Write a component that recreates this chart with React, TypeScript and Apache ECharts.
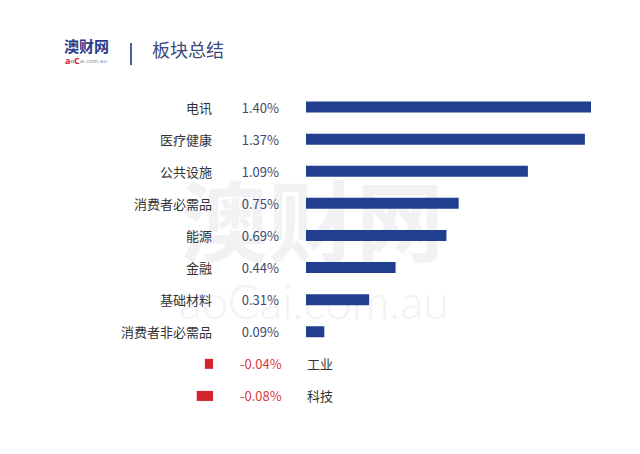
import React, { useEffect, useRef } from "react";
import * as echarts from "echarts";

const categories = ["电讯", "医疗健康", "公共设施", "消费者必需品", "能源", "金融", "基础材料", "消费者非必需品", "工业", "科技"];
const values = [1.40, 1.37, 1.09, 0.75, 0.69, 0.44, 0.31, 0.09, -0.04, -0.08];
const title = "板块总结";
const logoText = "澳财网";
const logoSub = "aoCai.com.au";

const FONT = "'Noto Sans CJK SC', 'Noto Sans', sans-serif";

export default function App() {
  const ref = useRef<HTMLDivElement>(null);
  useEffect(() => {
    if (!ref.current) return;
    const chart = echarts.init(ref.current, undefined, { renderer: "svg" });
    const posMax = 1.4;
    const posWidth = 285;
    const pxPerUnit = posWidth / posMax;
    const negWidth = 100;
    const negMin = -negWidth / pxPerUnit;
    const posData = values.map((v) => (v >= 0 ? v : "-"));
    const negData = values.map((v) => (v < 0 ? v : "-"));
    const fmt = (v: number) => v.toFixed(2) + "%";
    const top = 91;
    const height = 321;
    chart.setOption({
      animation: false,
      backgroundColor: "#ffffff",
      graphic: [
        { type: "text", left: 180, top: 172, z: -10, style: { text: logoText, fill: "#f2f2f4", font: `bold 88px ${FONT}` } },
        { type: "text", left: 179, top: 277, z: -10, style: { text: logoSub, fill: "#f2f2f4", font: `300 47px Lato, 'Open Sans', sans-serif` } },
        { type: "text", left: 64, top: 38, style: { text: logoText, fill: "#2c3b8c", font: `bold 15px ${FONT}` } },
        {
          type: "text",
          left: 65,
          top: 56,
          style: {
            text: "{a|a}{o|o}{c|C}{r|ai.com.au}",
            rich: {
              a: { fill: "#c8262e", font: `bold 9px 'Open Sans', sans-serif` },
              o: { fill: "#2c3b8c", font: `6px 'Open Sans', sans-serif` },
              c: { fill: "#c8262e", font: `bold 9px 'Open Sans', sans-serif` },
              r: { fill: "#8a8a95", font: `6px 'Open Sans', sans-serif` },
            },
          },
        },
        { type: "line", shape: { x1: 131, y1: 43, x2: 131, y2: 65 }, style: { stroke: "#4a5f9a", lineWidth: 2 } },
        { type: "text", left: 152, top: 40, style: { text: title, fill: "#3c4a7a", font: `18px ${FONT}` } },
      ],
      grid: [
        { left: 306, top, width: posWidth, height, containLabel: false },
        { left: 213 - negWidth, top, width: negWidth, height, containLabel: false },
      ],
      xAxis: [
        { gridIndex: 0, type: "value", min: 0, max: posMax, show: false },
        { gridIndex: 1, type: "value", min: negMin, max: 0, show: false },
      ],
      yAxis: [
        {
          gridIndex: 0,
          type: "category",
          data: categories,
          inverse: true,
          axisLine: { show: false },
          axisTick: { show: false },
          splitLine: { show: false },
          axisLabel: {
            margin: 27,
            interval: 0,
            formatter: (name: string, i: number) =>
              values[i] >= 0 ? `{n|${name}}{v|${fmt(values[i])}}` : "",
            rich: {
              n: { fontFamily: FONT, fontSize: 13, color: "#333333" },
              v: { fontFamily: FONT, fontSize: 13, color: "#3e4a6e", width: 67, align: "right" },
            },
          },
        },
        {
          gridIndex: 1,
          type: "category",
          data: categories,
          inverse: true,
          position: "right",
          axisLine: { show: false },
          axisTick: { show: false },
          splitLine: { show: false },
          axisLabel: {
            margin: 27,
            interval: 0,
            formatter: (name: string, i: number) =>
              values[i] < 0 ? `{v|${fmt(values[i])}}{n|${name}}` : "",
            rich: {
              n: { fontFamily: FONT, fontSize: 13, color: "#333333" },
              v: { fontFamily: FONT, fontSize: 13, color: "#d8393c", width: 67 },
            },
          },
        },
      ],
      series: [
        {
          type: "bar",
          xAxisIndex: 0,
          yAxisIndex: 0,
          data: posData,
          barWidth: 11,
          itemStyle: { color: "#213f8f" },
        },
        {
          type: "bar",
          xAxisIndex: 1,
          yAxisIndex: 1,
          data: negData,
          barWidth: 10,
          itemStyle: { color: "#d3242e" },
        },
      ],
    });
    return () => chart.dispose();
  }, []);
  return <div ref={ref} style={{ position: "fixed", left: 0, top: 0, width: 640, height: 454 }} />;
}
